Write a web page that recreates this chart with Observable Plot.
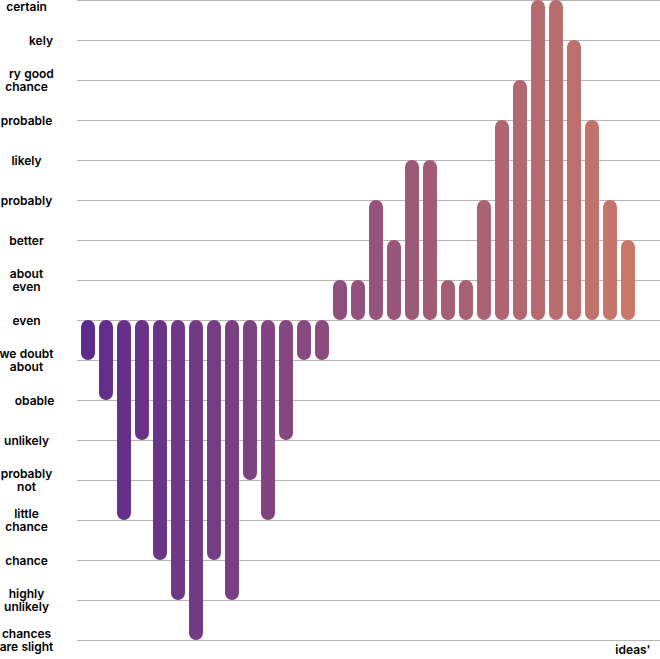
<!DOCTYPE html>
<html>
<head>
<meta charset="utf-8">
<script src="https://cdn.jsdelivr.net/npm/d3@7"></script>
<script src="https://cdn.jsdelivr.net/npm/@observablehq/plot@0.6"></script>
<style>
  body { margin: 0; background: #fff; }
  svg text { white-space: pre; }
</style>
</head>
<body>
<div id="chart"></div>
<script>
// Tick labels (top = +8 down to bottom = -8)
const levelLabels = [
  "\u00a0\ncertain",
  "\u00a0\u00a0\u00a0\u00a0\u00a0\u00a0\u00a0\u00a0\u00a0kely",
  "\u00a0\u00a0\u00a0ry good\nchance",
  "probable",
  "likely",
  "probably",
  "better",
  "about\neven",
  "even",
  "we doubt\nabout",
  "\u00a0\u00a0\u00a0\u00a0\u00a0obable",
  "unlikely",
  "probably\nnot",
  "little\nchance",
  "chance",
  "highly\nunlikely",
  "chances\nare slight"
];
const levels = d3.range(8, -9, -1);
// One bar per idea: offset from "even"
const ideas = d3.range(31);
const offsets = [-1,-2,-5,-3,-6,-7,-8,-6,-7,-4,-5,-3,-1,-1,1,1,3,2,4,4,1,1,3,5,6,8,8,7,5,3,2];
const xLabel = "ideas'";

const data = ideas.map((i) => ({idea: i, value: offsets[i]}));

const chart = Plot.plot({
  width: 660,
  height: 659,
  marginLeft: 77,
  marginRight: 0,
  marginTop: 0,
  marginBottom: 19,
  style: {fontFamily: "Inter, sans-serif", fontSize: "12px", fontWeight: 600, color: "#000"},
  x: {type: "band", domain: ideas, paddingInner: 0, paddingOuter: 0.63, align: 0.088, axis: null},
  y: {type: "linear", domain: [-8, 8], axis: null, label: null},
  color: {type: "linear", domain: [0, 30], range: ["#5d2b8b", "#c8776b"], interpolate: "rgb"},
  marks: [
    Plot.ruleY(levels, {stroke: "#bab3b1", strokeWidth: 1.2}),
    Plot.axisY(levels, {
      label: null,
      tickSize: 0,
      tickPadding: 51,
      textAnchor: "middle",
      lineHeight: 1.08,
      fontSize: 12,
      fontWeight: 600,
      fill: "#000",
      tickFormat: (d) => levelLabels[8 - d]
    }),
    Plot.barY(data, {
      x: "idea",
      y1: 0,
      y2: "value",
      fill: "idea",
      rx: 7,
      insetLeft: 2.03,
      insetRight: 2.03
    }),
    Plot.text([xLabel], {
      frameAnchor: "bottom-right",
      text: (d) => d,
      dx: -10,
      dy: 13,
      textAnchor: "end",
      fontSize: 12,
      fontWeight: 600,
      fill: "#000"
    })
  ]
});
document.getElementById("chart").appendChild(chart);
</script>
</body>
</html>
